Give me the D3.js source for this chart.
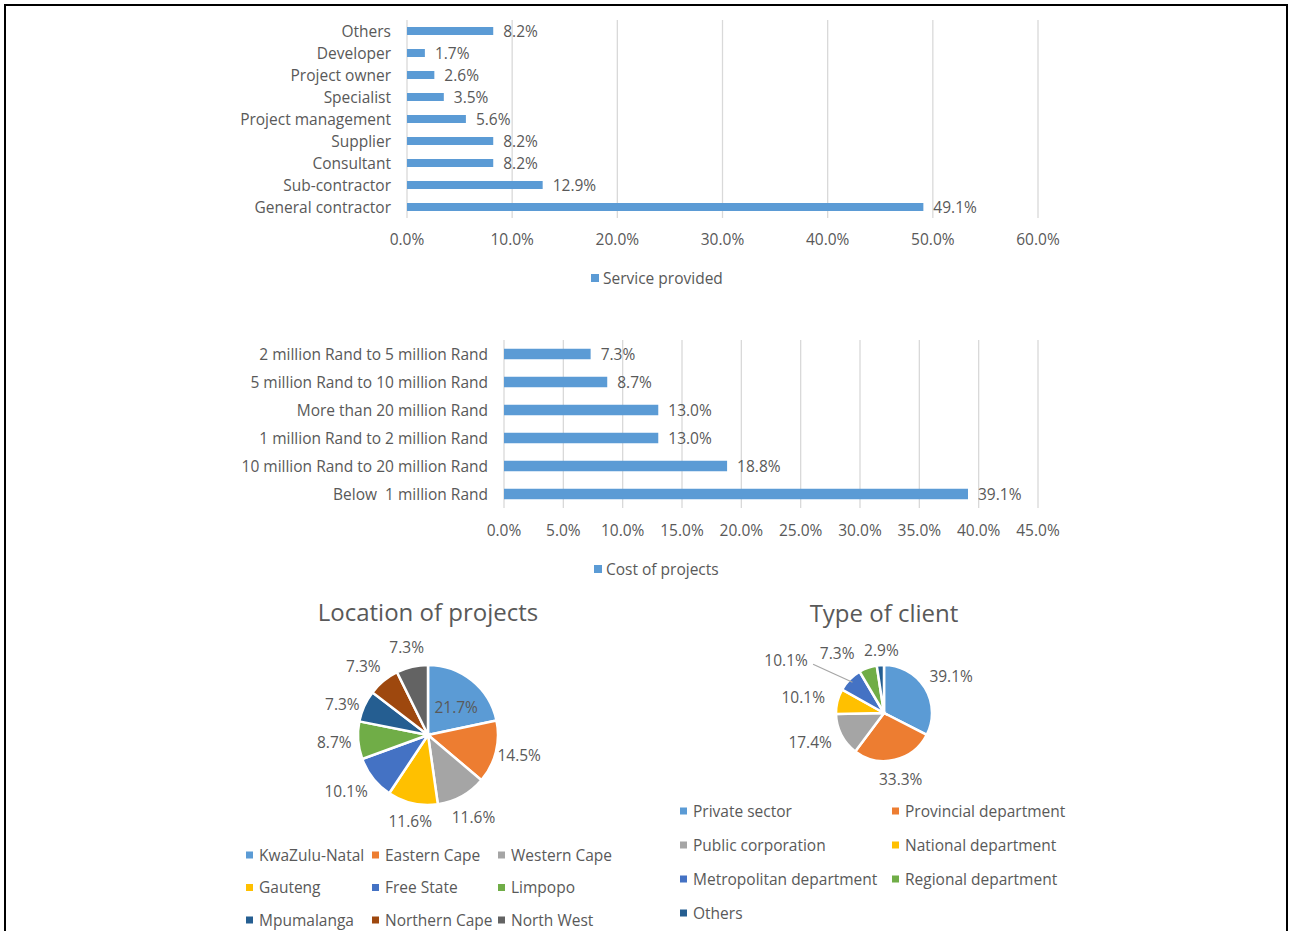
<!DOCTYPE html>
<html><head><meta charset="utf-8">
<script src="https://cdn.jsdelivr.net/npm/d3@7"></script>
<style>
body{margin:0;background:#fff;}
svg text{font-family:"Open Sans",Lato,sans-serif;fill:#595959;white-space:pre;}
</style></head>
<body><svg id="c" width="1290" height="931"></svg>
<script>
const serviceCats=["Others","Developer","Project owner","Specialist","Project management","Supplier","Consultant","Sub-contractor","General contractor"];
const serviceVals=[8.2,1.7,2.6,3.5,5.6,8.2,8.2,12.9,49.1];
const serviceTicks=[0,10,20,30,40,50,60];

const costCats=["2 million Rand to 5 million Rand","5 million Rand to 10 million Rand","More than 20 million Rand","1 million Rand to 2 million Rand","10 million Rand to 20 million Rand","Below  1 million Rand"];
const costVals=[7.3,8.7,13.0,13.0,18.8,39.1];
const costTicks=[0,5,10,15,20,25,30,35,40,45];

const locCats=["KwaZulu-Natal","Eastern Cape","Western Cape","Gauteng","Free State","Limpopo","Mpumalanga","Northern Cape","North West"];
const locVals=[21.7,14.5,11.6,11.6,10.1,8.7,7.3,7.3,7.3];

const clientCats=["Private sector","Provincial department","Public corporation","National department","Metropolitan department","Regional department","Others"];
const clientVals=[39.1,33.3,17.4,10.1,10.1,7.3,2.9];

const palette=["#5B9BD5","#ED7D31","#A5A5A5","#FFC000","#4472C4","#70AD47","#255E91","#9E480E","#636363"];
const barColor="#5B9BD5", grid="#d9d9d9";
const FS=15.5;

const svg=d3.select("#c");
svg.append("path").attr("d","M5,931 L5,5 L1287,5 L1287,931").attr("fill","none").attr("stroke","#000").attr("stroke-width",2);

function barChart(cats,vals,ticks,x0,x1,yTop,yBot,barH,tickY,legendY,legendText,legendX){
  const x=d3.scaleLinear().domain([0,d3.max(ticks)]).range([x0,x1]);
  const y=d3.scaleBand().domain(cats).range([yTop,yBot]);
  const g=svg.append("g");
  g.selectAll(".gl").data(ticks).join("line")
    .attr("x1",d=>x(d)).attr("x2",d=>x(d)).attr("y1",yTop).attr("y2",yBot)
    .attr("stroke",grid).attr("stroke-width",1.3);
  g.selectAll(".b").data(vals).join("rect")
    .attr("x",x(0)).attr("y",(d,i)=>y(cats[i])+y.bandwidth()/2-barH/2)
    .attr("width",d=>x(d)-x(0)).attr("height",barH).attr("fill",barColor);
  g.selectAll(".vl").data(vals).join("text")
    .attr("x",d=>x(d)+10).attr("y",(d,i)=>y(cats[i])+y.bandwidth()/2)
    .attr("dy","0.36em").attr("font-size",FS).text(d=>d.toFixed(1)+"%");
  g.selectAll(".cl").data(cats).join("text")
    .attr("x",x0-16).attr("y",d=>y(d)+y.bandwidth()/2).attr("dy","0.36em")
    .attr("text-anchor","end").attr("font-size",FS).text(d=>d);
  g.selectAll(".tl").data(ticks).join("text")
    .attr("x",d=>x(d)).attr("y",tickY).attr("dy","0.36em").attr("text-anchor","middle")
    .attr("font-size",FS).text(d=>d.toFixed(1)+"%");
  g.append("rect").attr("x",legendX).attr("y",legendY-4).attr("width",8).attr("height",8).attr("fill",barColor);
  g.append("text").attr("x",legendX+12).attr("y",legendY).attr("dy","0.36em").attr("font-size",FS).text(legendText);
}
barChart(serviceCats,serviceVals,serviceTicks,407,1038,20,218,8,239,278,"Service provided",591);
barChart(costCats,costVals,costTicks,504,1038,340,508,10.5,530,569,"Cost of projects",594);

function pie(cats,vals,cx,cy,r,title,titleY,labelPos,legendCols,legendX0,legendColW,legendY0,legendRowH,textOff){
  const g=svg.append("g");
  g.append("text").attr("x",cx).attr("y",titleY).attr("dy","0.36em").attr("text-anchor","middle")
    .attr("font-size",24).text(title);
  const arcs=d3.pie().sort(null).value(d=>d)(vals);
  const arc=d3.arc().innerRadius(0).outerRadius(r);
  const pg=g.append("g").attr("transform",`translate(${cx},${cy})`);
  pg.selectAll("path").data(arcs).join("path").attr("d",arc)
    .attr("fill",(d,i)=>palette[i]).attr("stroke","#fff").attr("stroke-width",2.5);
  arcs.forEach((a,i)=>{
    const p=labelPos(a,i);
    if(p.line){
      pg.append("polyline").attr("points",p.line.map(q=>q.join(",")).join(" "))
        .attr("fill","none").attr("stroke","#a6a6a6").attr("stroke-width",1.2);
    }
    pg.append("text").attr("x",p.x).attr("y",p.y).attr("dy","0.36em").attr("text-anchor","middle")
      .attr("font-size",FS).text(vals[i].toFixed(1)+"%");
  });
  cats.forEach((c,i)=>{
    const col=i%legendCols,row=Math.floor(i/legendCols);
    const lx=legendX0+col*legendColW, ly=legendY0+row*legendRowH;
    g.append("rect").attr("x",lx).attr("y",ly-3.5).attr("width",7).attr("height",7).attr("fill",palette[i]);
    g.append("text").attr("x",lx+textOff).attr("y",ly).attr("dy","0.36em").attr("font-size",FS).text(c);
  });
}
function polar(a,rr){const m=(a.startAngle+a.endAngle)/2;return [Math.sin(m)*rr,-Math.cos(m)*rr];}

pie(locCats,locVals,428,735,70,"Location of projects",612,(a,i)=>{
  if(i===0){const [x,y]=polar(a,40);return {x:x+3,y:y+3};}
  let [x,y]=polar(a,94);
  if(i===1){y-=3;}
  if(i===3){x+=3;y-=5;}
  if(i===4){x-=8;y-=2;}
  if(i===6){y+=8;}
  if(i===7){x-=5;y+=4;}
  if(i===8){y+=4;}
  return {x,y};
},3,246,126,855,32.5,13);

pie(clientCats,clientVals,884,713,48,"Type of client",613,(a,i)=>{
  let [x,y]=polar(a,74);
  if(i===4){
    const [ex,ey]=polar(a,44);
    const lx=x-45, ly=y-1;
    return {x:lx,y:ly,line:[[lx+27,ly+4],[ex,ey]]};
  }
  if(i===0){x+=4;y+=2;}
  if(i===1){y-=6;}
  if(i===2){x-=8;y-=4;}
  if(i===3){x-=9;y+=2;}
  if(i===5){x-=22;y+=10;}
  if(i===6){x+=3;y+=11;}
  return {x,y};
},2,680,212,811,34,13);
</script></body></html>
